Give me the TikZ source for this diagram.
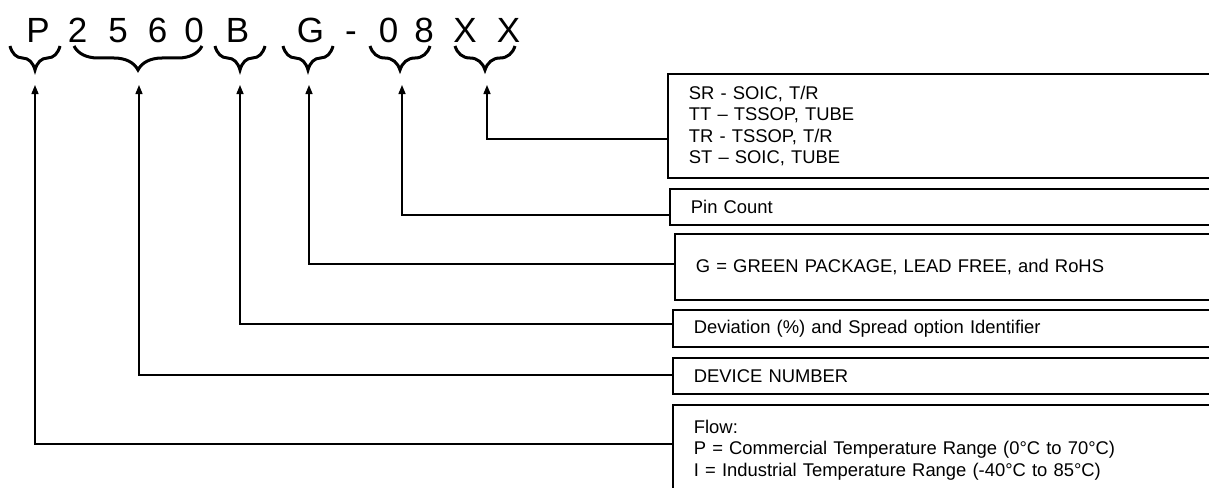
\documentclass[tikz,border=0pt]{standalone}
\usepackage{fontspec}
\setmainfont{Liberation Sans}
\usetikzlibrary{arrows.meta, decorations.pathreplacing}

\begin{document}
\begin{tikzpicture}[
    x=1pt, y=-1pt,
    letter/.style={font=\fontsize{35}{40}\selectfont, anchor=base, inner sep=0pt},
    brace/.style={decorate, decoration={brace, amplitude=24pt, aspect=0.5}, line width=3pt},
    infobox/.style={draw, line width=1.8pt, anchor=north west, align=left,
        text width=520pt, inner xsep=21pt, inner ysep=0pt,
        font=\fontsize{18.4}{21.5}\selectfont},
    arrow/.style={-{Triangle[length=9pt, width=7pt]}, line width=1.4pt},
]
\useasboundingbox (0,0) rectangle (1209,487);
\clip (0,0) rectangle (1209,487);

% Part number
\foreach \ch/\x [count=\i] in {P/38, 2/77.5, 5/118, 6/157.5, 0/194, B/237.5,
                               G/310.5, -/351, 0/388.5, 8/424, X/465, X/508.5} {
    \node[letter] (ch\i) at (\x, 43) {\ch};
}

% Braces under the fields
\foreach \a/\b in {10/60, 74/202, 215/265, 283/333, 370/430, 455/515} {
    \draw[brace] (\b, 46) -- (\a, 46);
}

% Arrow tips under the braces
\coordinate (upFlow) at (35, 85);
\coordinate (upDev) at (139, 85);
\coordinate (upOpt) at (240, 85);
\coordinate (upGrn) at (309, 85);
\coordinate (upPin) at (402, 85);
\coordinate (upPkg) at (487, 85);

% Description boxes
\node[infobox, minimum height=104pt] (bxPkg) at (667, 73)
    {SR - SOIC, T/R\\TT -- TSSOP, TUBE\\TR - TSSOP, T/R\\ST -- SOIC, TUBE};
\node[infobox, minimum height=36pt] (bxPin) at (669, 188) {Pin Count};
\node[infobox, minimum height=66pt] (bxGrn) at (674, 233)
    {G = GREEN PACKAGE, LEAD FREE, and RoHS};
\node[infobox, minimum height=37pt] (bxOpt) at (672, 309)
    {Deviation (\%) and Spread option Identifier};
\node[infobox, minimum height=36pt] (bxDev) at (672, 357) {DEVICE NUMBER};
\node[infobox, minimum height=90pt] (bxFlow) at (672, 404)
    {Flow:\\P = Commercial Temperature Range (0°C to 70°C)\\I = Industrial Temperature Range (-40°C to 85°C)};

% Connectors
\draw[arrow] ([yshift=-13pt]bxPkg.west) -| (upPkg);
\draw[arrow] ([yshift=-8pt]bxPin.west) -| (upPin);
\draw[arrow] ([yshift=3pt]bxGrn.west) -| (upGrn);
\draw[arrow] ([yshift=4.5pt]bxOpt.west) -| (upOpt);
\draw[arrow] ([yshift=1pt]bxDev.west) -| (upDev);
\draw[arrow] ([yshift=6pt]bxFlow.west) -| (upFlow);

\end{tikzpicture}
\end{document}
